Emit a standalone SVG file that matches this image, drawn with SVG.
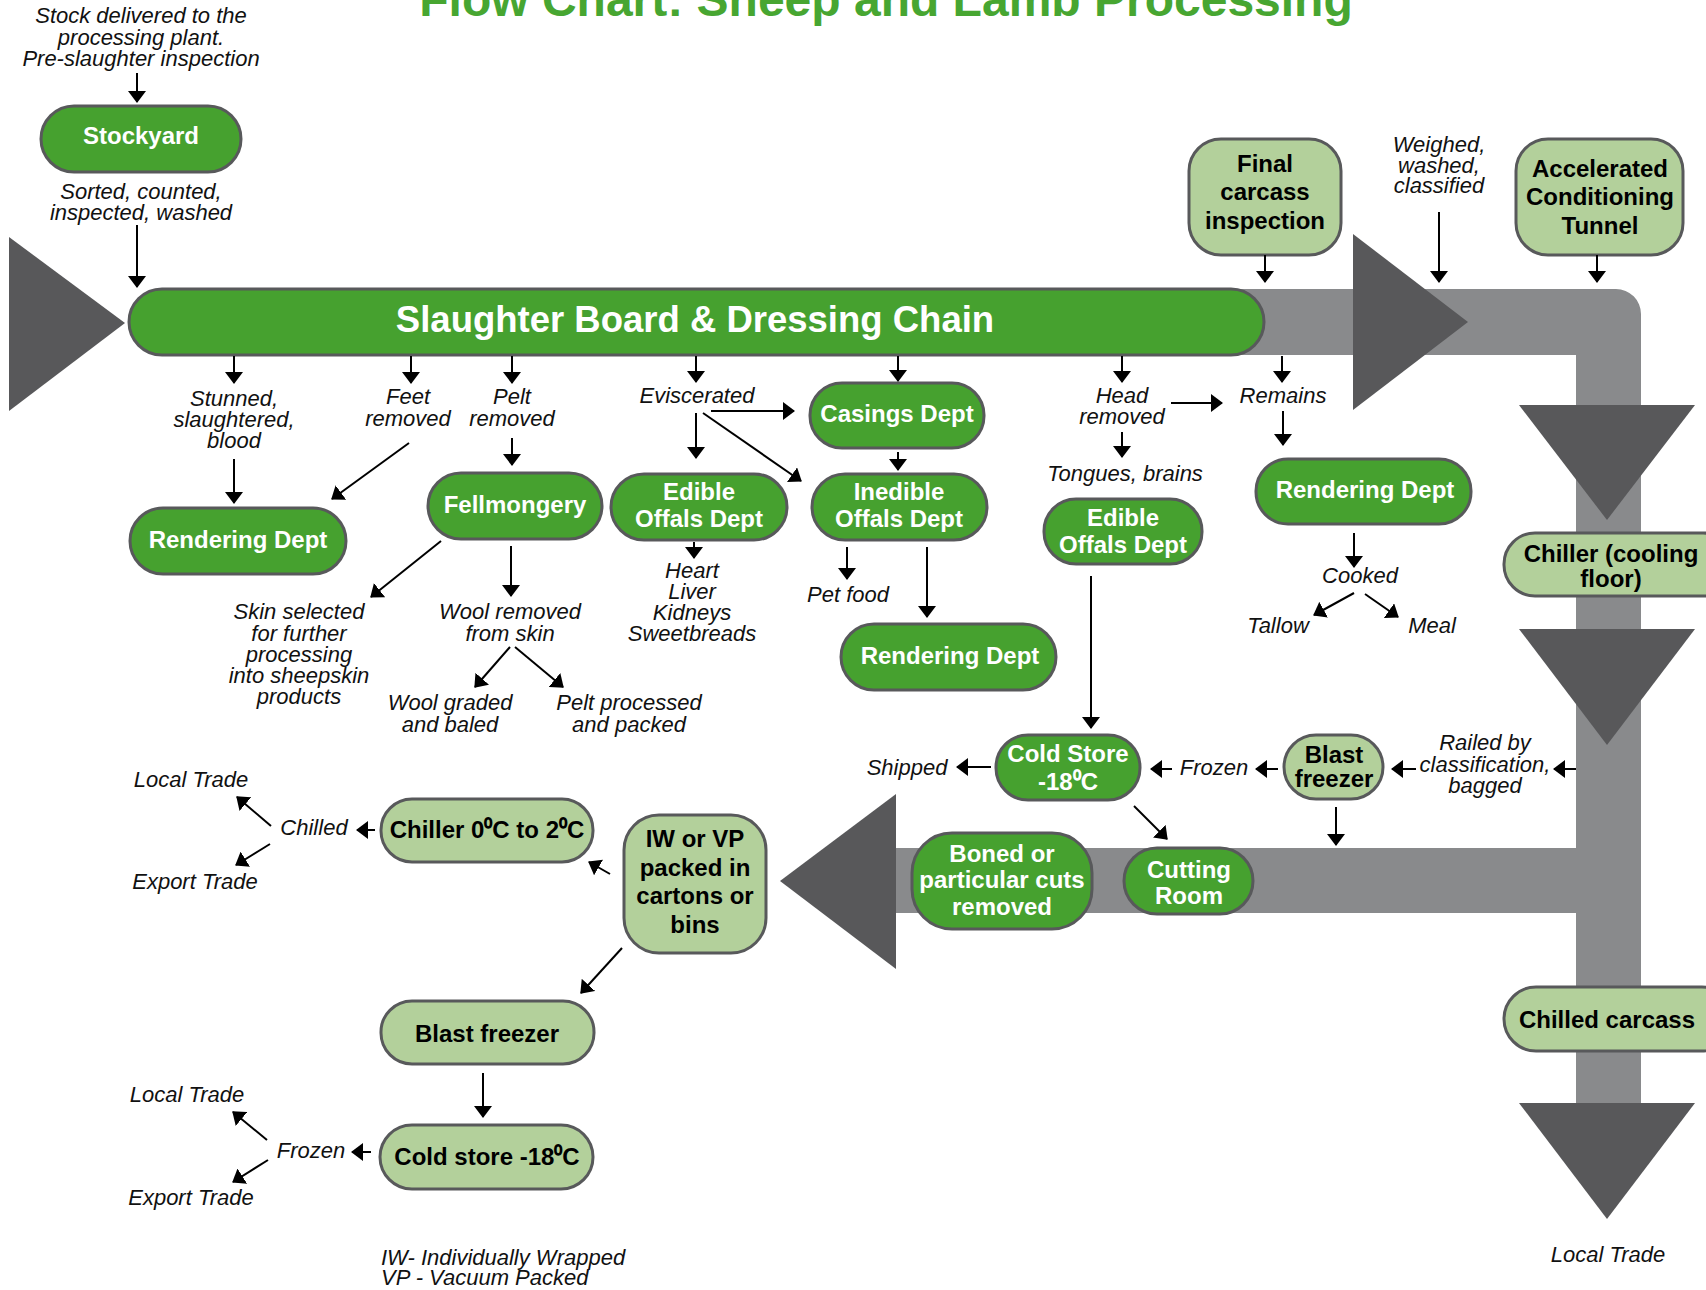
<svg xmlns="http://www.w3.org/2000/svg" width="1706" height="1290" viewBox="0 0 1706 1290">
<defs>
<style>
.dk{fill:#46A12F;stroke:#58595B;stroke-width:3}
.lt{fill:#B3D09B;stroke:#58595B;stroke-width:3}
.wt{font-family:"Liberation Sans",Arial,sans-serif;font-weight:bold;font-size:24px;fill:#fff;text-anchor:middle}
.bt{font-family:"Liberation Sans",Arial,sans-serif;font-weight:bold;font-size:24px;fill:#000;text-anchor:middle}
.it{font-family:"Liberation Sans",Arial,sans-serif;font-style:italic;font-size:22px;fill:#111;text-anchor:middle}
.st{text-anchor:start}
.band{fill:#898A8C}
.tri{fill:#58585A}
.cn line{stroke:#000;stroke-width:2;marker-end:url(#ah)}
</style>
<marker id="ah" viewBox="0 0 12 18" refX="11" refY="9" markerWidth="12" markerHeight="18" markerUnits="userSpaceOnUse" orient="auto">
<path d="M0,0 L12,9 L0,18 z" fill="#000"/>
</marker>
</defs>
<rect width="1706" height="1290" fill="#fff"/>
<text x="886" y="16" font-family="'Liberation Sans',Arial,sans-serif" font-weight="bold" font-size="48" fill="#47A631" text-anchor="middle">Flow Chart:  Sheep and Lamb Processing</text>

<g id="flow-bands">
<path class="band" d="M1200,289 H1616 A25,25 0 0 1 1641,314 V1110 H1576 V913 H890 V848 H1576 V355 H1200 Z"/>
<polygon class="tri" points="9,237 125,323 9,411"/>
<polygon class="tri" points="1353,234 1468,322 1353,410"/>
<polygon class="tri" points="1519,405 1695,405 1607,520"/>
<polygon class="tri" points="1519,629 1695,629 1607,745"/>
<polygon class="tri" points="1519,1103 1695,1103 1607,1219"/>
<polygon class="tri" points="896,794 780,881 896,969"/>
</g>

<g id="labels">
<text class="it" x="141" y="23">Stock delivered to the</text>
<text class="it" x="141" y="45">processing plant.</text>
<text class="it" x="141" y="66">Pre-slaughter inspection</text>
<text class="it" x="141" y="199">Sorted, counted,</text>
<text class="it" x="141" y="220">inspected, washed</text>
<text class="it" x="234" y="406">Stunned,</text>
<text class="it" x="234" y="427">slaughtered,</text>
<text class="it" x="234" y="448">blood</text>
<text class="it" x="408" y="404">Feet</text>
<text class="it" x="408" y="426">removed</text>
<text class="it" x="512" y="404">Pelt</text>
<text class="it" x="512" y="426">removed</text>
<text class="it" x="697" y="403">Eviscerated</text>
<text class="it" x="1122" y="403">Head</text>
<text class="it" x="1122" y="424">removed</text>
<text class="it" x="1283" y="403">Remains</text>
<text class="it" x="1125" y="481">Tongues, brains</text>
<text class="it" x="692" y="578">Heart</text>
<text class="it" x="692" y="599">Liver</text>
<text class="it" x="692" y="620">Kidneys</text>
<text class="it" x="692" y="641">Sweetbreads</text>
<text class="it" x="848" y="602">Pet food</text>
<text class="it" x="1360" y="583">Cooked</text>
<text class="it" x="1278" y="633">Tallow</text>
<text class="it" x="1432" y="633">Meal</text>
<text class="it" x="299" y="619">Skin selected</text>
<text class="it" x="299" y="641">for further</text>
<text class="it" x="299" y="662">processing</text>
<text class="it" x="299" y="683">into sheepskin</text>
<text class="it" x="299" y="704">products</text>
<text class="it" x="510" y="619">Wool removed</text>
<text class="it" x="510" y="641">from skin</text>
<text class="it" x="450" y="710">Wool graded</text>
<text class="it" x="450" y="732">and baled</text>
<text class="it" x="629" y="710">Pelt processed</text>
<text class="it" x="629" y="732">and packed</text>
<text class="it" x="1439" y="152">Weighed,</text>
<text class="it" x="1439" y="173">washed,</text>
<text class="it" x="1439" y="193">classified</text>
<text class="it" x="1485" y="750">Railed by</text>
<text class="it" x="1485" y="772">classification,</text>
<text class="it" x="1485" y="793">bagged</text>
<text class="it" x="1214" y="775">Frozen</text>
<text class="it" x="907" y="775">Shipped</text>
<text class="it" x="314" y="835">Chilled</text>
<text class="it" x="191" y="787">Local Trade</text>
<text class="it" x="195" y="889">Export Trade</text>
<text class="it" x="311" y="1158">Frozen</text>
<text class="it" x="187" y="1102">Local Trade</text>
<text class="it" x="191" y="1205">Export Trade</text>
<text class="it st" x="381" y="1265">IW- Individually Wrapped</text>
<text class="it st" x="381" y="1285">VP - Vacuum Packed</text>
<text class="it" x="1608" y="1262">Local Trade</text>
</g>

<g id="node-stockyard"><rect class="dk" x="41" y="106" width="200" height="66" rx="33"/><text class="wt" x="141" y="144">Stockyard</text></g>
<g id="node-slaughter"><rect class="dk" x="129" y="289" width="1135" height="66" rx="33"/><text class="wt" x="695" y="332" style="font-size:36.5px">Slaughter Board &amp; Dressing Chain</text></g>
<g id="node-final-inspection"><rect class="lt" x="1189" y="139" width="152" height="116" rx="32"/><text class="bt" x="1265" y="172">Final</text><text class="bt" x="1265" y="200">carcass</text><text class="bt" x="1265" y="229">inspection</text></g>
<g id="node-act"><rect class="lt" x="1516" y="139" width="167" height="116" rx="32"/><text class="bt" x="1600" y="177">Accelerated</text><text class="bt" x="1600" y="205">Conditioning</text><text class="bt" x="1600" y="234">Tunnel</text></g>
<g id="node-rendering-1"><rect class="dk" x="130" y="508" width="216" height="66" rx="33"/><text class="wt" x="238" y="548">Rendering Dept</text></g>
<g id="node-fellmongery"><rect class="dk" x="428" y="473" width="174" height="66" rx="33"/><text class="wt" x="515" y="513">Fellmongery</text></g>
<g id="node-edible-1"><rect class="dk" x="611" y="474" width="176" height="66" rx="33"/><text class="wt" x="699" y="500">Edible</text><text class="wt" x="699" y="527">Offals Dept</text></g>
<g id="node-casings"><rect class="dk" x="810" y="383" width="174" height="65" rx="32"/><text class="wt" x="897" y="422">Casings Dept</text></g>
<g id="node-inedible"><rect class="dk" x="812" y="474" width="175" height="66" rx="33"/><text class="wt" x="899" y="500">Inedible</text><text class="wt" x="899" y="527">Offals Dept</text></g>
<g id="node-rendering-2"><rect class="dk" x="841" y="624" width="215" height="66" rx="33"/><text class="wt" x="950" y="664">Rendering Dept</text></g>
<g id="node-edible-2"><rect class="dk" x="1044" y="499" width="158" height="65" rx="32"/><text class="wt" x="1123" y="526">Edible</text><text class="wt" x="1123" y="553">Offals Dept</text></g>
<g id="node-rendering-3"><rect class="dk" x="1256" y="459" width="215" height="65" rx="32"/><text class="wt" x="1365" y="498">Rendering Dept</text></g>
<g id="node-chiller-floor"><rect class="lt" x="1504" y="533" width="230" height="63" rx="31"/><text class="bt" x="1611" y="562">Chiller (cooling</text><text class="bt" x="1611" y="587">floor)</text></g>
<g id="node-cold-store-1"><rect class="dk" x="996" y="735" width="144" height="65" rx="32"/><text class="wt" x="1068" y="762">Cold Store</text><text class="wt" x="1068" y="790">-18⁰C</text></g>
<g id="node-blast-1"><rect class="lt" x="1284" y="735" width="99" height="64" rx="32"/><text class="bt" x="1334" y="763">Blast</text><text class="bt" x="1334" y="787">freezer</text></g>
<g id="node-boned"><rect class="dk" x="912" y="833" width="180" height="96" rx="40"/><text class="wt" x="1002" y="862">Boned or</text><text class="wt" x="1002" y="888">particular cuts</text><text class="wt" x="1002" y="915">removed</text></g>
<g id="node-cutting"><rect class="dk" x="1124" y="848" width="129" height="66" rx="33"/><text class="wt" x="1189" y="878">Cutting</text><text class="wt" x="1189" y="904">Room</text></g>
<g id="node-iwvp"><rect class="lt" x="624" y="815" width="142" height="138" rx="35"/><text class="bt" x="695" y="847">IW or VP</text><text class="bt" x="695" y="876">packed in</text><text class="bt" x="695" y="904">cartons or</text><text class="bt" x="695" y="933">bins</text></g>
<g id="node-chiller-02"><rect class="lt" x="381" y="799" width="212" height="63" rx="31"/><text class="bt" x="487" y="838">Chiller 0⁰C to 2⁰C</text></g>
<g id="node-blast-2"><rect class="lt" x="381" y="1001" width="213" height="63" rx="31"/><text class="bt" x="487" y="1042">Blast freezer</text></g>
<g id="node-cold-store-2"><rect class="lt" x="380" y="1125" width="213" height="64" rx="32"/><text class="bt" x="487" y="1165">Cold store -18⁰C</text></g>
<g id="node-chilled-carcass"><rect class="lt" x="1504" y="987" width="230" height="64" rx="32"/><text class="bt" x="1607" y="1028">Chilled carcass</text></g>

<g id="connectors" class="cn">
<line x1="137" y1="73" x2="137" y2="102"/>
<line x1="137" y1="225" x2="137" y2="287"/>
<line x1="234" y1="356" x2="234" y2="383"/>
<line x1="411" y1="356" x2="411" y2="383"/>
<line x1="512" y1="356" x2="512" y2="383"/>
<line x1="696" y1="356" x2="696" y2="382"/>
<line x1="898" y1="356" x2="898" y2="381"/>
<line x1="1122" y1="356" x2="1122" y2="382"/>
<line x1="1282" y1="356" x2="1282" y2="382"/>
<line x1="1265" y1="255" x2="1265" y2="282"/>
<line x1="1439" y1="212" x2="1439" y2="282"/>
<line x1="1597" y1="255" x2="1597" y2="282"/>
<line x1="234" y1="459" x2="234" y2="503"/>
<line x1="409" y1="443" x2="332" y2="499"/>
<line x1="512" y1="438" x2="512" y2="465"/>
<line x1="711" y1="411" x2="794" y2="411"/>
<line x1="696" y1="413" x2="696" y2="458"/>
<line x1="703" y1="413" x2="801" y2="481"/>
<line x1="898" y1="452" x2="898" y2="470"/>
<line x1="694" y1="542" x2="694" y2="558"/>
<line x1="847" y1="547" x2="847" y2="579"/>
<line x1="927" y1="547" x2="927" y2="617"/>
<line x1="1122" y1="432" x2="1122" y2="457"/>
<line x1="1171" y1="403" x2="1222" y2="403"/>
<line x1="1283" y1="411" x2="1283" y2="445"/>
<line x1="1354" y1="533" x2="1354" y2="567"/>
<line x1="1354" y1="593" x2="1314" y2="615"/>
<line x1="1365" y1="594" x2="1398" y2="617"/>
<line x1="441" y1="541" x2="371" y2="597"/>
<line x1="511" y1="546" x2="511" y2="596"/>
<line x1="510" y1="647" x2="475" y2="687"/>
<line x1="515" y1="647" x2="563" y2="687"/>
<line x1="1091" y1="576" x2="1091" y2="728"/>
<line x1="1576" y1="769" x2="1554" y2="769"/>
<line x1="1416" y1="769" x2="1392" y2="769"/>
<line x1="1278" y1="769" x2="1256" y2="769"/>
<line x1="1172" y1="769" x2="1151" y2="769"/>
<line x1="991" y1="767" x2="957" y2="767"/>
<line x1="1336" y1="807" x2="1336" y2="845"/>
<line x1="1134" y1="806" x2="1167" y2="839"/>
<line x1="610" y1="874" x2="589" y2="862"/>
<line x1="622" y1="948" x2="581" y2="993"/>
<line x1="375" y1="830" x2="357" y2="830"/>
<line x1="271" y1="826" x2="237" y2="797"/>
<line x1="270" y1="844" x2="236" y2="865"/>
<line x1="483" y1="1073" x2="483" y2="1117"/>
<line x1="371" y1="1152" x2="352" y2="1152"/>
<line x1="267" y1="1140" x2="233" y2="1112"/>
<line x1="268" y1="1160" x2="233" y2="1182"/>
</g>
</svg>
